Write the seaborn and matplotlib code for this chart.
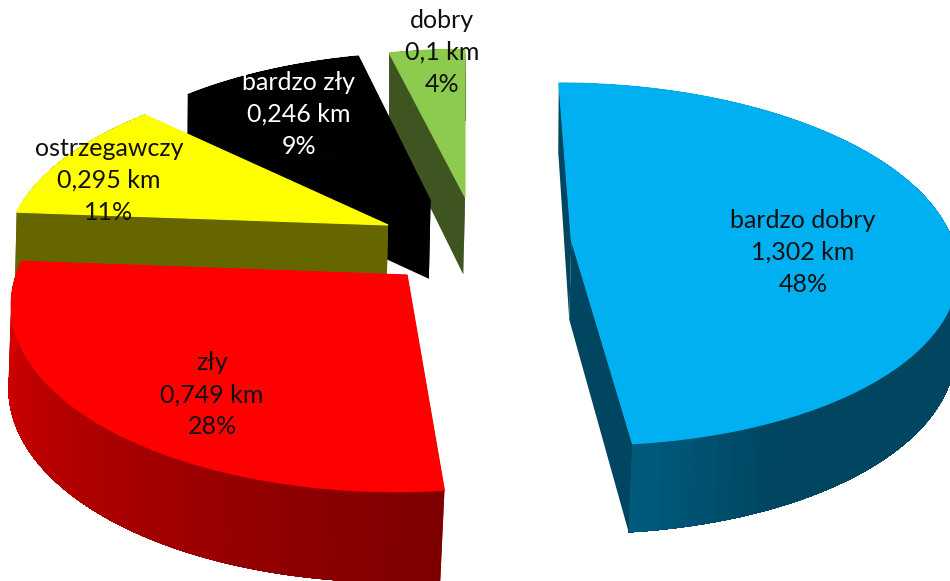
from matplotlib import pyplot as plt
import numpy as np
import seaborn as sns

names = ['bardzo dobry', 'zły', 'ostrzegawczy', 'bardzo zły', 'dobry']
km = [1.302, 0.749, 0.295, 0.246, 0.1]
percents = ['48%', '28%', '11%', '9%', '4%']

top_colors = ['#00b0f0', '#ff0000', '#ffff00', '#000000', '#8ccb4e']
# wall colours along each slice's rim, start to end
rim_colors = [['#004660'] * 9 + ['#005a7c'], ['#7d0000', '#dd0000'],
              ['#666600', '#666600'], ['#000000', '#000000'], ['#3e5522', '#3e5522']]
side_colors = ['#004660', '#dd0000', '#666600', '#000000', '#3e5522']
text_colors = ['#111111', '#111111', '#111111', '#ffffff', '#111111']

# how far each slice is pulled out of the pie (x, depth)
explode = [(0.279, 0.056), (-0.148, -0.136), (-0.204, 0.141), (-0.093, 0.282), (0.0, 0.306)]
label_pos = [(803, 220), (212, 363), (109, 148), (299, 82), (442, 20)]
line_gap = 32

sns.set_style('white')
plt.rcParams['font.family'] = ['Lato', 'DejaVu Sans']

fig = plt.figure(figsize=(9.5, 5.81), dpi=100)
ax = fig.add_axes([0, 0, 1, 1])
ax.set_xlim(0, 950)
ax.set_ylim(581, 0)
ax.axis('off')


# perspective camera: pie radius is 1, y runs away from the viewer
def project(x, y):
    w = 1 + 0.1337 * y
    return 465 + 384 * x / w, -1100 + 1350 / w


def project_low(x, y):
    w = 1 + 0.1337 * y
    u, v = project(x, y)
    return u + (w - 1.17) * 13, v + 20 + 60 / w


edges = np.cumsum([0] + km) / sum(km) * 2 * np.pi

for i in [4, 3, 2, 1, 0]:
    ox, oy = explode[i]
    t = np.linspace(edges[i], edges[i + 1], 90)
    x = ox + np.sin(t)
    y = oy + np.cos(t)
    top_u, top_v = project(x, y)
    low_u, low_v = project_low(x, y)
    au, av = project(ox, oy)
    bu, bv = project_low(ox, oy)

    # the two flat faces
    for k in [0, -1]:
        ax.fill([au, top_u[k], low_u[k], bu], [av, top_v[k], low_v[k], bv],
                color=side_colors[i], lw=0)
    # rim gradient, each piece runs to the end of the rim so no seams show
    shades = sns.blend_palette(rim_colors[i], len(t) - 1)
    for k in range(len(t) - 1):
        ax.fill(np.r_[top_u[k:], low_u[k:][::-1]], np.r_[top_v[k:], low_v[k:][::-1]],
                color=shades[k], lw=0)
    ax.fill(np.r_[au, top_u], np.r_[av, top_v], color=top_colors[i], lw=0.8)

for i in range(len(names)):
    px, py = label_pos[i]
    km_label = f'{km[i]:g}'.replace('.', ',') + ' km'
    for n, line in enumerate([names[i], km_label, percents[i]]):
        ax.text(px, py + n * line_gap, line, ha='center', va='center',
                fontsize=18, color=text_colors[i])

fig.savefig('out.png', dpi=100)
